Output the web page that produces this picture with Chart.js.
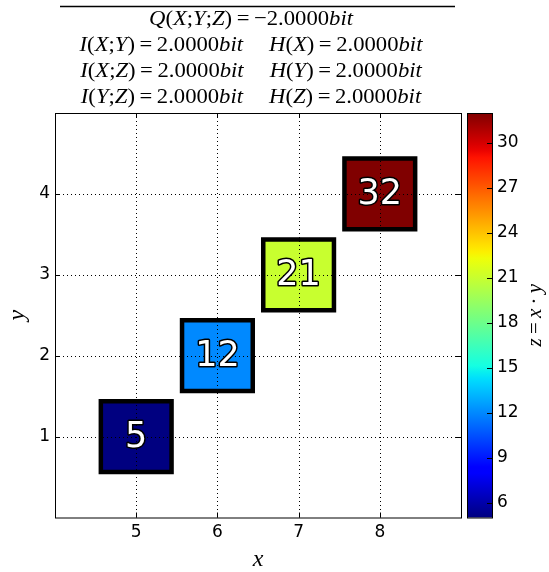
<!DOCTYPE html>
<html>
<head>
<meta charset="utf-8">
<script src="https://cdn.jsdelivr.net/npm/chart.js@4.4.0/dist/chart.umd.min.js"></script>
<style>
  html, body { margin: 0; padding: 0; background: #fff; }
  canvas { display: block; }
</style>
</head>
<body>
<canvas id="c" width="549" height="572"></canvas>
<script>
// ---- data ----
const xValues = [5, 6, 7, 8];
const yValues = [1, 2, 3, 4];
const zValues = [5, 12, 21, 32];          // z = x * y
const xTicks = [5, 6, 7, 8];
const yTicks = [1, 2, 3, 4];
const zTicks = [6, 9, 12, 15, 18, 21, 24, 27, 30];
const xRange = [4, 9];
const yRange = [0, 5];
const zRange = [5, 32];
const interactionInfo = -2.0;             // Q(X;Y;Z)
const mutualInfo = [2.0, 2.0, 2.0];       // I(X;Y), I(X;Z), I(Y;Z)
const entropies = [2.0, 2.0, 2.0];        // H(X), H(Y), H(Z)

// ---- jet colormap ----
const JET = {
  r: [[0, 0], [0.35, 0], [0.66, 1], [0.89, 1], [1, 0.5]],
  g: [[0, 0], [0.125, 0], [0.375, 1], [0.64, 1], [0.91, 0], [1, 0]],
  b: [[0, 0.5], [0.11, 1], [0.34, 1], [0.65, 0], [1, 0]]
};
function seg(s, t) {
  for (let i = 1; i < s.length; i++) {
    if (t <= s[i][0]) {
      const [x0, y0] = s[i - 1], [x1, y1] = s[i];
      return y0 + (y1 - y0) * (t - x0) / (x1 - x0);
    }
  }
  return s[s.length - 1][1];
}
function jet(v) {
  const t = Math.min(1, Math.max(0, (v - zRange[0]) / (zRange[1] - zRange[0])));
  return `rgb(${Math.round(255 * seg(JET.r, t))},${Math.round(255 * seg(JET.g, t))},${Math.round(255 * seg(JET.b, t))})`;
}

// ---- math-style text ----
const MATH_FONT = '"Liberation Serif", "Times New Roman", serif';
const SANS = '"DejaVu Sans", sans-serif';
function fmt(v) { return (v < 0 ? '\u2212' : '') + Math.abs(v).toFixed(4); }
function term(fn, args, value) {
  const s = [[fn, 1], ['(', 0]];
  args.forEach((a, i) => { if (i) s.push([';', 0]); s.push([a, 1]); });
  s.push([')', 0], ['\u2009=\u2009', 0], [fmt(value), 0], ['bit', 1]);
  return s;
}
function mathWidth(ctx, parts, size) {
  let w = 0;
  parts.forEach(([t, it]) => { ctx.font = `${it ? 'italic ' : ''}${size}px ${MATH_FONT}`; w += ctx.measureText(t).width; });
  return w;
}
function drawMath(ctx, parts, size, x, y, sx) {
  ctx.save();
  ctx.translate(x, y);
  ctx.scale(sx, 1);
  let cx = 0;
  ctx.textBaseline = 'alphabetic';
  ctx.textAlign = 'left';
  parts.forEach(([t, it]) => {
    ctx.font = `${it ? 'italic ' : ''}${size}px ${MATH_FONT}`;
    ctx.fillText(t, cx, 0);
    cx += ctx.measureText(t).width;
  });
  ctx.restore();
}
function drawMathCentered(ctx, parts, size, cx, y, sx) {
  const w = mathWidth(ctx, parts, size) * sx;
  drawMath(ctx, parts, size, cx - w / 2, y, sx);
}

const TITLE_SIZE = 22, TITLE_SX = 1.03, TITLE_GAP = 26, TITLE_CX = 251;
const titleRows = [
  [term('Q', ['X', 'Y', 'Z'], interactionInfo)],
  [term('I', ['X', 'Y'], mutualInfo[0]), term('H', ['X'], entropies[0])],
  [term('I', ['X', 'Z'], mutualInfo[1]), term('H', ['Y'], entropies[1])],
  [term('I', ['Y', 'Z'], mutualInfo[2]), term('H', ['Z'], entropies[2])]
];
const titleBaselines = [25, 51, 77, 103];

const decorations = {
  id: 'decorations',
  afterDatasetsDraw(chart) {
    const { ctx, chartArea: a, scales } = chart;
    // dotted grid over the markers
    ctx.save();
    ctx.strokeStyle = '#000';
    ctx.lineWidth = 1;
    ctx.setLineDash([1, 3]);
    xTicks.forEach(v => {
      const px = Math.round(scales.x.getPixelForValue(v)) + 0.5;
      ctx.beginPath(); ctx.moveTo(px, a.top); ctx.lineTo(px, a.bottom); ctx.stroke();
    });
    yTicks.forEach(v => {
      const py = Math.round(scales.y.getPixelForValue(v)) + 0.5;
      ctx.beginPath(); ctx.moveTo(a.left, py); ctx.lineTo(a.right, py); ctx.stroke();
    });
    ctx.restore();
  },
  afterDraw(chart) {
    const { ctx, chartArea: a, scales } = chart;
    ctx.save();
    // frame and inward ticks
    ctx.strokeStyle = '#000';
    ctx.lineWidth = 1;
    ctx.strokeRect(a.left + 0.5, a.top + 0.5, a.right - a.left, a.bottom - a.top);
    const TL = 5;
    ctx.beginPath();
    xTicks.forEach(v => {
      const px = Math.round(scales.x.getPixelForValue(v)) + 0.5;
      ctx.moveTo(px, a.bottom); ctx.lineTo(px, a.bottom - TL);
      ctx.moveTo(px, a.top); ctx.lineTo(px, a.top + TL);
    });
    yTicks.forEach(v => {
      const py = Math.round(scales.y.getPixelForValue(v)) + 0.5;
      ctx.moveTo(a.left, py); ctx.lineTo(a.left + TL, py);
      ctx.moveTo(a.right, py); ctx.lineTo(a.right - TL, py);
    });
    ctx.stroke();

    // colour bar
    const zs = scales.z;
    const cbL = a.right + 6, cbR = a.right + 31;
    const yTop = zs.getPixelForValue(zRange[1]), yBot = zs.getPixelForValue(zRange[0]);
    const grad = ctx.createLinearGradient(0, yBot, 0, yTop);
    for (let i = 0; i <= 64; i++) grad.addColorStop(i / 64, jet(zRange[0] + (zRange[1] - zRange[0]) * i / 64));
    ctx.fillStyle = grad;
    ctx.fillRect(cbL, yTop, cbR - cbL, yBot - yTop);
    ctx.strokeStyle = '#000';
    ctx.strokeRect(cbL + 0.5, yTop + 0.5, cbR - cbL, yBot - yTop);
    ctx.beginPath();
    zTicks.forEach(v => {
      const py = Math.round(zs.getPixelForValue(v)) + 0.5;
      ctx.moveTo(cbR, py); ctx.lineTo(cbR - TL, py);
    });
    ctx.stroke();

    // value labels on the markers
    const meta = chart.getDatasetMeta(0);
    ctx.font = `35px ${SANS}`;
    ctx.textAlign = 'center';
    ctx.textBaseline = 'middle';
    ctx.lineJoin = 'round';
    ctx.lineWidth = 3;
    meta.data.forEach((pt, i) => {
      const t = String(zValues[i]);
      ctx.strokeStyle = '#000';
      ctx.strokeText(t, pt.x, pt.y + 1);
      ctx.fillStyle = '#fff';
      ctx.fillText(t, pt.x, pt.y + 1);
    });

    // axis titles
    ctx.fillStyle = '#000';
    drawMathCentered(ctx, [['x', 1]], 24, (a.left + a.right) / 2, 566, 1);
    ctx.save();
    ctx.translate(24, (a.top + a.bottom) / 2);
    ctx.rotate(-Math.PI / 2);
    drawMathCentered(ctx, [['y', 1]], 24, 0, 0, 1);
    ctx.restore();
    ctx.save();
    ctx.translate(541, (a.top + a.bottom) / 2);
    ctx.rotate(-Math.PI / 2);
    drawMathCentered(ctx, [['z', 1], ['\u2009=\u2009', 0], ['x', 1], ['\u2009\u00b7\u2009', 0], ['y', 1]], 21, 0, 0, 1);
    ctx.restore();

    // title block with overline
    ctx.beginPath();
    ctx.lineWidth = 1.5;
    ctx.moveTo(60, 6.5); ctx.lineTo(455, 6.5);
    ctx.stroke();
    titleRows.forEach((row, r) => {
      if (row.length === 1) {
        drawMathCentered(ctx, row[0], TITLE_SIZE, TITLE_CX, titleBaselines[r], TITLE_SX);
      } else {
        const w1 = mathWidth(ctx, row[0], TITLE_SIZE) * TITLE_SX;
        const w2 = mathWidth(ctx, row[1], TITLE_SIZE) * TITLE_SX;
        const x0 = TITLE_CX - (w1 + TITLE_GAP + w2) / 2;
        drawMath(ctx, row[0], TITLE_SIZE, x0, titleBaselines[r], TITLE_SX);
        drawMath(ctx, row[1], TITLE_SIZE, x0 + w1 + TITLE_GAP, titleBaselines[r], TITLE_SX);
      }
    });
    ctx.restore();
  }
};

const tickFont = { family: SANS, size: 17 };
new Chart(document.getElementById('c'), {
  type: 'scatter',
  data: {
    datasets: [{
      data: xValues.map((x, i) => ({ x, y: yValues[i] })),
      pointStyle: 'rect',
      pointRadius: 50,
      pointBackgroundColor: zValues.map(jet),
      pointBorderColor: '#000',
      pointBorderWidth: 4.5,
      clip: false
    }]
  },
  options: {
    responsive: false,
    animation: false,
    devicePixelRatio: 1,
    events: [],
    layout: { padding: { top: 113, left: 0, right: 0, bottom: 0 } },
    plugins: { legend: { display: false }, tooltip: { enabled: false } },
    scales: {
      x: {
        type: 'linear', position: 'bottom', min: xRange[0], max: xRange[1],
        afterBuildTicks: s => { s.ticks = xTicks.map(v => ({ value: v })); },
        afterFit: s => { s.height = 54; },
        grid: { display: false, drawTicks: false },
        border: { display: false },
        ticks: { font: tickFont, color: '#000', padding: 5, maxRotation: 0 }
      },
      y: {
        type: 'linear', position: 'left', min: yRange[0], max: yRange[1],
        afterBuildTicks: s => { s.ticks = yTicks.map(v => ({ value: v })); },
        afterFit: s => { s.width = 55; },
        grid: { display: false, drawTicks: false },
        border: { display: false },
        ticks: { font: tickFont, color: '#000', padding: 5 }
      },
      z: {
        type: 'linear', position: 'right', min: zRange[0], max: zRange[1],
        afterBuildTicks: s => { s.ticks = zTicks.map(v => ({ value: v })); },
        afterFit: s => { s.width = 88; },
        grid: { display: false, drawTicks: false },
        border: { display: false },
        ticks: { font: tickFont, color: '#000', padding: 36 }
      }
    }
  },
  plugins: [decorations]
});
</script>
</body>
</html>
